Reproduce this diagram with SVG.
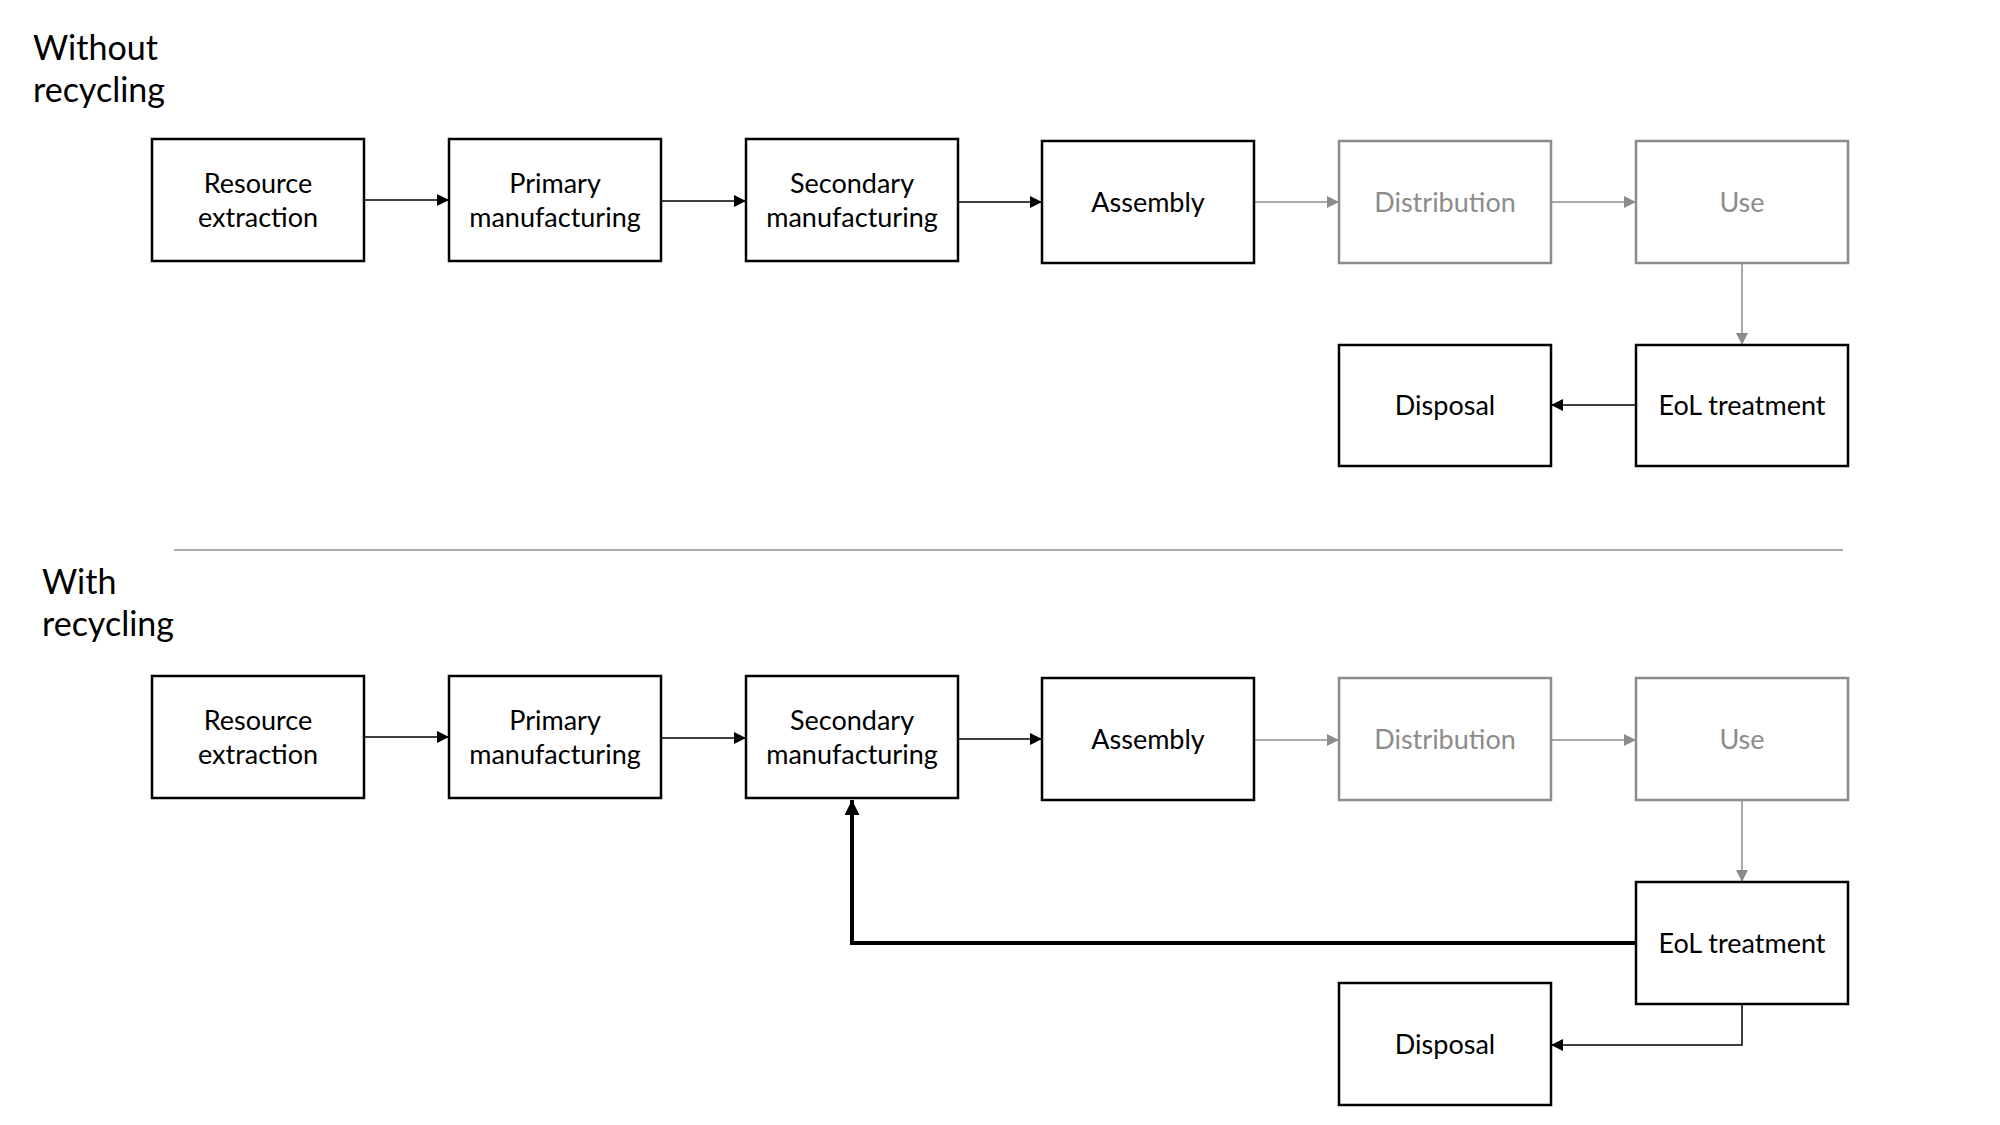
<svg xmlns="http://www.w3.org/2000/svg" width="2000" height="1125" viewBox="0 0 2000 1125">
<defs>
<style>
.box{fill:#fff;stroke:#000;stroke-width:2.5}
.gbox{fill:#fff;stroke:#8c8c8c;stroke-width:2.5}
.t{font-family:Lato,"Liberation Sans",sans-serif;font-size:27px;fill:#000;text-anchor:middle}
.gt{font-family:Lato,"Liberation Sans",sans-serif;font-size:27px;fill:#8c8c8c;text-anchor:middle}
.title{font-family:Lato,"Liberation Sans",sans-serif;font-size:34px;fill:#000}
.c{fill:none;stroke:#000;stroke-width:1.5}
.gc{fill:none;stroke:#8c8c8c;stroke-width:1.5}
.thick{fill:none;stroke:#000;stroke-width:4}
</style>
<marker id="ah" viewBox="0 0 10 10" refX="10" refY="5" markerWidth="12" markerHeight="12" markerUnits="userSpaceOnUse" orient="auto"><path d="M0,0 L10,5 L0,10 z" fill="#000"/></marker>
<marker id="gah" viewBox="0 0 10 10" refX="10" refY="5" markerWidth="12" markerHeight="12" markerUnits="userSpaceOnUse" orient="auto"><path d="M0,0 L10,5 L0,10 z" fill="#8c8c8c"/></marker>
<marker id="tah" viewBox="0 0 10 10" refX="10" refY="5" markerWidth="15" markerHeight="15" markerUnits="userSpaceOnUse" orient="auto"><path d="M0,0 L10,5 L0,10 z" fill="#000"/></marker>
</defs>
<rect width="2000" height="1125" fill="#fff"/>

<g id="titles">
<text class="title" x="33" y="60">Without</text>
<text class="title" x="33" y="102">recycling</text>
<text class="title" x="42" y="594">With</text>
<text class="title" x="42" y="636">recycling</text>
</g>
<line id="separator" x1="174" y1="550" x2="1843" y2="550" stroke="#8c8c8c" stroke-width="1.5"/>

<g id="connectors">
<path class="c" d="M364,200 H449" marker-end="url(#ah)"/>
<path class="c" d="M661,201 H746" marker-end="url(#ah)"/>
<path class="c" d="M958,202 H1042" marker-end="url(#ah)"/>
<path class="gc" d="M1254,202 H1339" marker-end="url(#gah)"/>
<path class="gc" d="M1551,202 H1636" marker-end="url(#gah)"/>
<path class="gc" d="M1742,263 V345" marker-end="url(#gah)"/>
<path class="c" d="M1636,405 H1551" marker-end="url(#ah)"/>

<path class="c" d="M364,737 H449" marker-end="url(#ah)"/>
<path class="c" d="M661,738 H746" marker-end="url(#ah)"/>
<path class="c" d="M958,739 H1042" marker-end="url(#ah)"/>
<path class="gc" d="M1254,740 H1339" marker-end="url(#gah)"/>
<path class="gc" d="M1551,740 H1636" marker-end="url(#gah)"/>
<path class="gc" d="M1742,801 V882" marker-end="url(#gah)"/>
<path class="thick" d="M1636,943 H852 V800" marker-end="url(#tah)"/>
<path class="c" d="M1742,1004 V1045 H1551" marker-end="url(#ah)"/>
</g>

<g id="n1-resource"><rect class="box" x="152" y="139" width="212" height="122"/><text class="t" x="258" y="193">Resource</text><text class="t" x="258" y="227">extraction</text></g>
<g id="n1-primary"><rect class="box" x="449" y="139" width="212" height="122"/><text class="t" x="555" y="193">Primary</text><text class="t" x="555" y="227">manufacturing</text></g>
<g id="n1-secondary"><rect class="box" x="746" y="139" width="212" height="122"/><text class="t" x="852" y="193">Secondary</text><text class="t" x="852" y="227">manufacturing</text></g>
<g id="n1-assembly"><rect class="box" x="1042" y="141" width="212" height="122"/><text class="t" x="1148" y="212">Assembly</text></g>
<g id="n1-distribution"><rect class="gbox" x="1339" y="141" width="212" height="122"/><text class="gt" x="1445" y="212">Distribution</text></g>
<g id="n1-use"><rect class="gbox" x="1636" y="141" width="212" height="122"/><text class="gt" x="1742" y="212">Use</text></g>
<g id="n1-disposal"><rect class="box" x="1339" y="345" width="212" height="121"/><text class="t" x="1445" y="415">Disposal</text></g>
<g id="n1-eol"><rect class="box" x="1636" y="345" width="212" height="121"/><text class="t" x="1742" y="415">EoL treatment</text></g>

<g id="n2-resource"><rect class="box" x="152" y="676" width="212" height="122"/><text class="t" x="258" y="730">Resource</text><text class="t" x="258" y="764">extraction</text></g>
<g id="n2-primary"><rect class="box" x="449" y="676" width="212" height="122"/><text class="t" x="555" y="730">Primary</text><text class="t" x="555" y="764">manufacturing</text></g>
<g id="n2-secondary"><rect class="box" x="746" y="676" width="212" height="122"/><text class="t" x="852" y="730">Secondary</text><text class="t" x="852" y="764">manufacturing</text></g>
<g id="n2-assembly"><rect class="box" x="1042" y="678" width="212" height="122"/><text class="t" x="1148" y="749">Assembly</text></g>
<g id="n2-distribution"><rect class="gbox" x="1339" y="678" width="212" height="122"/><text class="gt" x="1445" y="749">Distribution</text></g>
<g id="n2-use"><rect class="gbox" x="1636" y="678" width="212" height="122"/><text class="gt" x="1742" y="749">Use</text></g>
<g id="n2-eol"><rect class="box" x="1636" y="882" width="212" height="122"/><text class="t" x="1742" y="953">EoL treatment</text></g>
<g id="n2-disposal"><rect class="box" x="1339" y="983" width="212" height="122"/><text class="t" x="1445" y="1054">Disposal</text></g>
</svg>
